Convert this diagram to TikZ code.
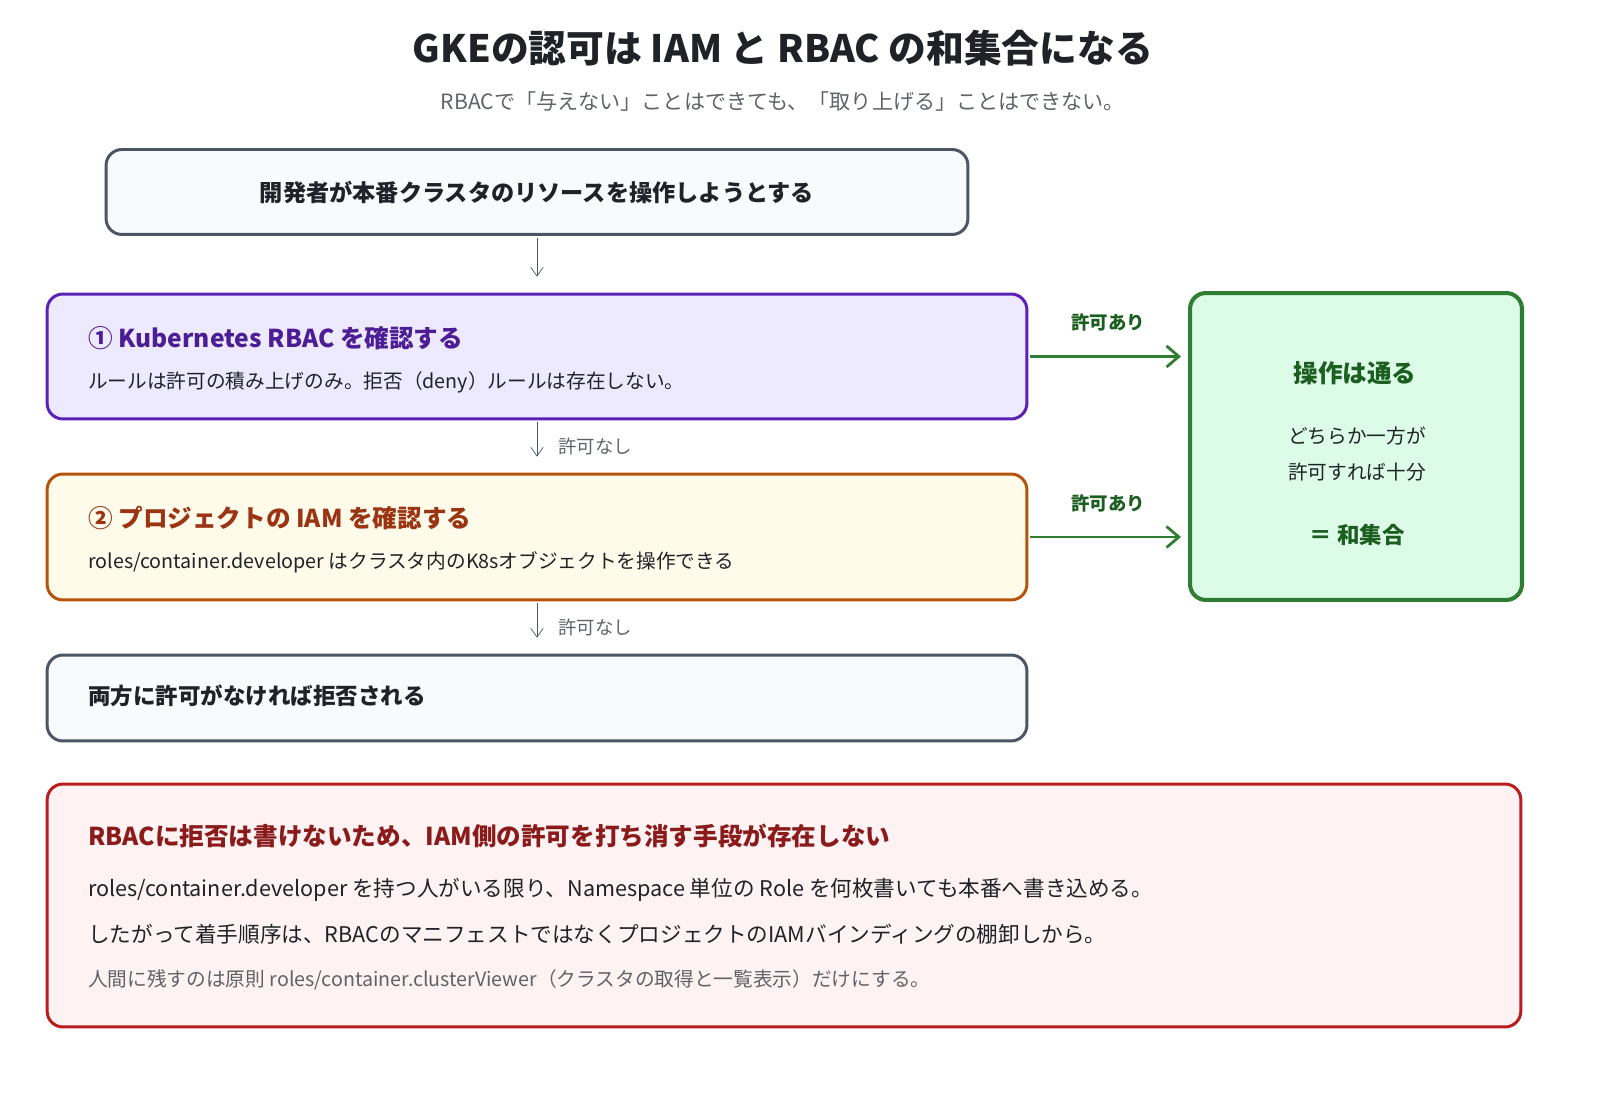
\documentclass[tikz,border=0pt]{standalone}
\usepackage{fontspec}
\setmainfont{Noto Sans CJK JP}
\usetikzlibrary{positioning, arrows.meta, calc}
\definecolor{ink}{HTML}{1f2328}
\definecolor{subgray}{HTML}{5f6368}
\definecolor{boxgray}{HTML}{4b5563}
\definecolor{bgray}{HTML}{f8fafc}
\definecolor{purp}{HTML}{5b21b6}
\definecolor{purpfill}{HTML}{ede9fe}
\definecolor{purptext}{HTML}{4c1d95}
\definecolor{ochre}{HTML}{b45309}
\definecolor{ochrefill}{HTML}{fefbea}
\definecolor{ochretext}{HTML}{9a3412}
\definecolor{green}{HTML}{2e7d32}
\definecolor{greenfill}{HTML}{dcfce7}
\definecolor{greentext}{HTML}{1b5e20}
\definecolor{redline}{HTML}{b91c1c}
\definecolor{redfill}{HTML}{fef2f2}
\definecolor{redtext}{HTML}{8b1a1a}
\tikzset{
  box/.style={draw, rounded corners=9pt, line width=1.7pt, inner sep=0pt},
  flow/.style={draw=boxgray, thin, -{Straight Barb[length=5pt,width=7pt]}},
  pass/.style={draw=green, line width=1.6pt, -{Straight Barb[length=7pt,width=12pt]}},
  note/.style={font=\fontsize{10.5}{12}\selectfont, text=subgray, anchor=west},
}
\begin{document}
\begin{tikzpicture}[x=0.02cm, y=-0.02cm]
  \useasboundingbox (0,0) rectangle (1600,1104);

  \node (title) at (783,48) {\fontsize{21.5}{24}\selectfont\bfseries\color{ink} GKEの認可は IAM と RBAC の和集合になる};
  \node (sub) at (783,101) {\fontsize{12}{13}\selectfont\color{subgray} RBACで「与えない」ことはできても、「取り上げる」ことはできない。};

  % boxes
  \node[box, draw=boxgray, fill=bgray, minimum width=17.24cm, minimum height=1.7cm] (dev) at (537,192) {};
  \node[font=\fontsize{13.2}{15}\selectfont\bfseries, text=ink] at (dev) {開発者が本番クラスタのリソースを操作しようとする};

  \node[box, draw=purp, fill=purpfill, minimum width=19.6cm, minimum height=2.5cm] (rbac) at (537,356.5) {};
  \node[anchor=west, font=\fontsize{14}{15}\selectfont\bfseries, text=purptext] at (82,338) {① Kubernetes RBAC を確認する};
  \node[anchor=west, font=\fontsize{11.2}{13}\selectfont, text=ink] at (82,382) {ルールは許可の積み上げのみ。拒否（deny）ルールは存在しない。};

  \node[box, draw=ochre, fill=ochrefill, minimum width=19.6cm, minimum height=2.52cm] (iam) at (537,537) {};
  \node[anchor=west, font=\fontsize{14}{15}\selectfont\bfseries, text=ochretext] at (82,518) {② プロジェクトの IAM を確認する};
  \node[anchor=west, font=\fontsize{11.2}{13}\selectfont, text=ink] at (82,562) {roles/container.developer はクラスタ内のK8sオブジェクトを操作できる};

  \node[box, draw=boxgray, fill=bgray, minimum width=19.6cm, minimum height=1.72cm] (deny) at (537,698) {};
  \node[anchor=west, font=\fontsize{12.8}{15}\selectfont\bfseries, text=ink] at (82,696) {両方に許可がなければ拒否される};

  \node[box, draw=green, fill=greenfill, line width=2.3pt, minimum width=6.64cm, minimum height=6.14cm] (ok) at (1356,446.5) {};
  \node[font=\fontsize{14}{15}\selectfont\bfseries, text=greentext] at (1355,373) {操作は通る};
  \node[font=\fontsize{11.2}{13}\selectfont, text=ink] at (1357,436) {どちらか一方が};
  \node[font=\fontsize{11.2}{13}\selectfont, text=ink] at (1357,472) {許可すれば十分};
  \node[font=\fontsize{12.8}{14}\selectfont\bfseries, text=greentext] at (1357,535) {＝ 和集合};

  \node[box, draw=redline, fill=redfill, minimum width=29.48cm, minimum height=4.86cm] (warn) at (784,905.5) {};
  \node[anchor=west, font=\fontsize{14}{15}\selectfont\bfseries, text=redtext] at (82,836) {RBACに拒否は書けないため、IAM側の許可を打ち消す手段が存在しない};
  \node[anchor=west, font=\fontsize{12.3}{14}\selectfont, text=ink] at (82,890) {roles/container.developer を持つ人がいる限り、Namespace 単位の Role を何枚書いても本番へ書き込める。};
  \node[anchor=west, font=\fontsize{12.3}{14}\selectfont, text=ink] at (82,934) {したがって着手順序は、RBACのマニフェストではなくプロジェクトのIAMバインディングの棚卸しから。};
  \node[anchor=west, font=\fontsize{11.2}{13}\selectfont, text=subgray] at (82,980) {人間に残すのは原則 roles/container.clusterViewer（クラスタの取得と一覧表示）だけにする。};

  % connectors
  \draw[flow, shorten <=1pt, shorten >=9pt] (dev) -- (rbac);
  \draw[flow, shorten <=1pt, shorten >=9pt] (rbac) -- (iam) node[note, pos=0.5, xshift=0.3cm] {許可なし};
  \draw[flow, shorten <=1pt, shorten >=9pt] (iam) -- (deny) node[note, pos=0.5, xshift=0.3cm] {許可なし};
  \draw[pass, shorten <=1pt, shorten >=4pt] (rbac.east) -- (rbac.east -| ok.west)
    node[midway, above=10pt, font=\fontsize{10.5}{12}\selectfont\bfseries, text=greentext] {許可あり};
  \draw[pass, shorten <=1pt, shorten >=4pt] (iam.east) -- (iam.east -| ok.west)
    node[midway, above=10pt, font=\fontsize{10.5}{12}\selectfont\bfseries, text=greentext] {許可あり};
\end{tikzpicture}
\end{document}
